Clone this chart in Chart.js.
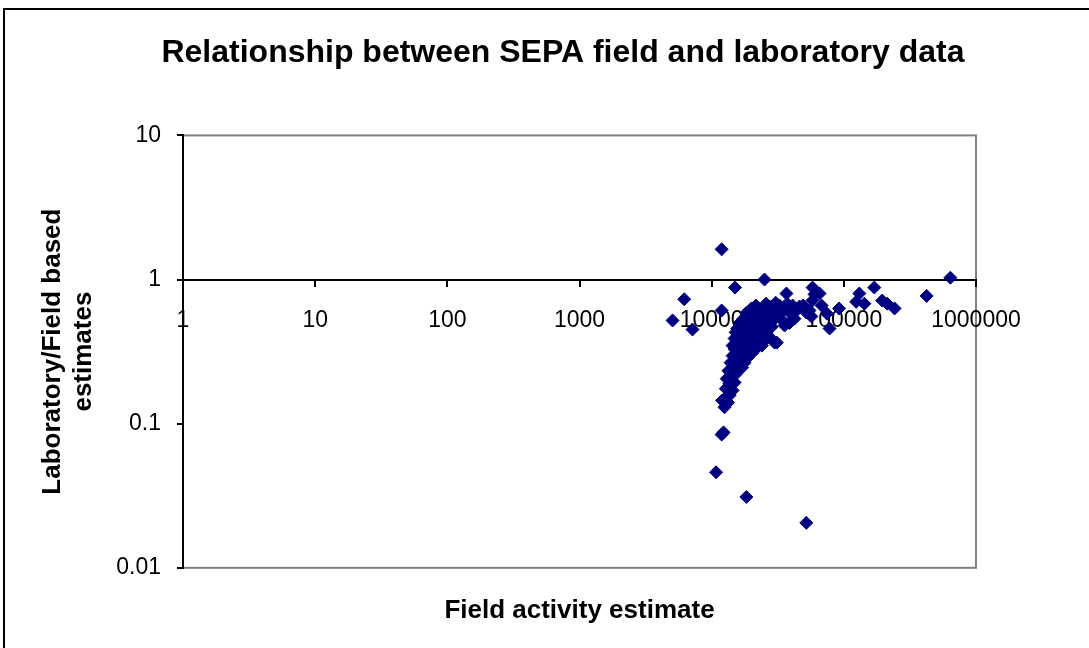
<!DOCTYPE html>
<html>
<head>
<meta charset="utf-8">
<script src="https://cdn.jsdelivr.net/npm/chart.js@4.4.1/dist/chart.umd.min.js"></script>
<style>
  html, body { margin: 0; padding: 0; background: #fff; overflow: hidden; }
  #wrap { position: relative; width: 1089px; height: 648px; }
  #frame { position: absolute; left: 3px; top: 8px; width: 1200px; height: 800px; border: 2px solid #000; pointer-events: none; }
  canvas { position: absolute; left: 0; top: 0; }
</style>
</head>
<body>
<div id="wrap">
  <canvas id="c" width="1089" height="648"></canvas>
  <div id="frame"></div>
</div>
<script>
// Field activity estimate (x) and Laboratory/Field ratio (y)
const fieldActivity = [
  11900, 25100, 15000, 6200, 5060, 7160, 11900, 36800, 58000, 60000,
  65500, 131000, 170000, 195000, 213000, 242000, 423000, 640000, 92000, 124000,
  143000, 78000, 74500, 67900, 10800, 18300, 52000, 12300, 11900, 12500,
  12000, 13300, 12800, 13640, 13000, 14200, 13400, 14600, 13900, 15200,
  14400, 15600, 14900, 16250, 15300, 17000, 15900, 17400, 16600, 18100,
  15200, 17100, 18700, 17700, 19300, 20000, 20700, 21500, 22200, 23000,
  20900, 19300, 18700, 18100, 17400, 17000, 16250, 15600, 15200, 20000,
  21500, 23000, 22200, 20700, 19300, 24000, 25100, 26100, 24600, 27400,
  28500, 26500, 29900, 29200, 31100, 32600, 30500, 33700, 35600, 34300,
  37300, 38800, 41000, 43900, 46200, 49200, 52000, 55000, 57900, 56800,
  31100, 29900, 27400, 25100, 24000, 21600, 20300, 18700, 17700, 17000,
  14900, 14400, 13640, 13300, 15600, 14900, 14400, 17400, 16250, 18400,
  20000, 21600, 24000, 25800, 27400, 35600, 38800, 42300
];
const labFieldRatio = [
  1.62, 1.0, 0.88, 0.73, 0.52, 0.45, 0.61, 0.80, 0.88, 0.79,
  0.80, 0.80, 0.88, 0.715, 0.68, 0.63, 0.77, 1.03, 0.63, 0.70,
  0.68, 0.457, 0.58, 0.66, 0.046, 0.031, 0.0205, 0.087, 0.084, 0.13,
  0.145, 0.157, 0.175, 0.19, 0.205, 0.215, 0.233, 0.245, 0.265, 0.274,
  0.296, 0.31, 0.33, 0.34, 0.365, 0.377, 0.40, 0.415, 0.443, 0.443,
  0.43, 0.48, 0.47, 0.52, 0.535, 0.49, 0.55, 0.52, 0.59, 0.555,
  0.443, 0.41, 0.377, 0.348, 0.32, 0.29, 0.265, 0.24, 0.22, 0.39,
  0.41, 0.443, 0.39, 0.36, 0.33, 0.48, 0.52, 0.455, 0.41, 0.535,
  0.47, 0.59, 0.61, 0.52, 0.555, 0.66, 0.69, 0.59, 0.63, 0.52,
  0.68, 0.59, 0.66, 0.61, 0.65, 0.66, 0.59, 0.61, 0.715, 0.555,
  0.365, 0.365, 0.40, 0.377, 0.348, 0.33, 0.31, 0.287, 0.265, 0.245,
  0.193, 0.17, 0.157, 0.14, 0.457, 0.39, 0.348, 0.535, 0.50, 0.59,
  0.63, 0.66, 0.63, 0.68, 0.65, 0.48, 0.50, 0.535
];
const xTickValues = [1, 10, 100, 1000, 10000, 100000, 1000000];
const yTickValues = [0.01, 0.1, 1, 10];

const FONT = "'Liberation Sans', Arial, Helvetica, sans-serif";

const points = fieldActivity.map((x, i) => ({ x: x, y: labFieldRatio[i] }));

const plotBorder = {
  id: 'plotBorder',
  beforeDraw(chart) {
    const { ctx, chartArea: a } = chart;
    ctx.save();
    ctx.fillStyle = '#fff';
    ctx.fillRect(0, 0, chart.width, chart.height);
    ctx.strokeStyle = '#808080';
    ctx.lineWidth = 2;
    ctx.strokeRect(a.left, a.top, a.right - a.left, a.bottom - a.top);
    ctx.restore();
  }
};

new Chart(document.getElementById('c'), {
  type: 'scatter',
  data: {
    datasets: [{
      label: 'Laboratory/Field',
      data: points,
      pointStyle: 'rectRot',
      pointRadius: 6.5,
      pointHoverRadius: 6.5,
      backgroundColor: '#000080',
      borderColor: '#000080',
      borderWidth: 1
    }]
  },
  options: {
    responsive: false,
    animation: false,
    devicePixelRatio: 1,
    layout: { padding: { left: 37, right: 0, top: 0, bottom: 0 } },
    plugins: {
      legend: { display: false },
      tooltip: { enabled: false },
      title: {
        display: true,
        text: 'Relationship between SEPA field and laboratory data',
        color: '#000',
        font: { family: FONT, size: 32, weight: 'bold', lineHeight: 1.2 },
        padding: { top: 34, bottom: 63 }
      },
      subtitle: {
        display: true,
        position: 'bottom',
        fullSize: false,
        text: 'Field activity estimate',
        color: '#000',
        font: { family: FONT, size: 26, weight: 'bold', lineHeight: 1.2 },
        padding: { top: 27, bottom: 22 }
      }
    },
    scales: {
      x: {
        type: 'logarithmic',
        min: 1,
        max: 1000000,
        position: { y: 1 },
        afterBuildTicks: (s) => { s.ticks = xTickValues.map(v => ({ value: v })); },
        afterFit: (s) => { s.height = 0; },
        ticks: {
          callback: (v) => String(v),
          color: '#000',
          font: { family: FONT, size: 23 },
          padding: 21,
          maxRotation: 0,
          autoSkip: false
        },
        grid: { drawOnChartArea: false, drawTicks: true, tickLength: 6, color: '#000', lineWidth: 2 },
        border: { color: '#000', width: 2 }
      },
      y: {
        type: 'logarithmic',
        min: 0.01,
        max: 10,
        position: 'left',
        afterBuildTicks: (s) => { s.ticks = yTickValues.map(v => ({ value: v })); },
        afterFit: (s) => { s.width = 146; },
        ticks: {
          callback: (v) => String(v),
          color: '#000',
          font: { family: FONT, size: 23 },
          padding: 16,
          autoSkip: false
        },
        grid: { drawOnChartArea: false, drawTicks: true, tickLength: 6, color: '#000', lineWidth: 2 },
        border: { color: '#000', width: 2 },
        title: {
          display: true,
          text: ['Laboratory/Field based', 'estimates'],
          color: '#000',
          font: { family: FONT, size: 26, weight: 'bold', lineHeight: 1.2 },
          padding: { top: 0, bottom: 0 }
        }
      },
      yRight: {
        type: 'linear',
        position: 'right',
        display: true,
        afterFit: (s) => { s.width = 113; },
        grid: { display: false },
        border: { display: false },
        ticks: { display: false }
      }
    }
  },
  plugins: [plotBorder]
});
</script>
</body>
</html>
